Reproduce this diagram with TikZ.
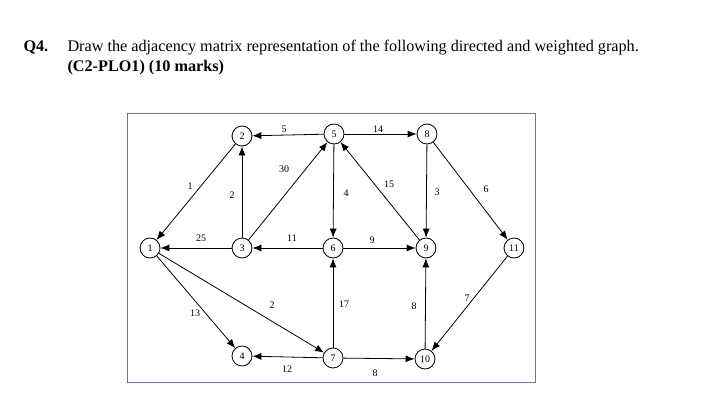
\documentclass[tikz,border=0pt]{standalone}
\usepackage{fontspec}
\setmainfont{Liberation Serif}
\usetikzlibrary{arrows.meta}
\begin{document}
\begin{tikzpicture}[x=1pt,y=-1pt,
  v/.style={circle,draw,thick,minimum size=20pt,inner sep=0pt,font=\fontsize{10}{10}\selectfont},
  e/.style={thick,-{Latex[length=9pt,width=7pt]}},
  w/.style={font=\fontsize{10}{10}\selectfont,inner sep=1pt}]
\useasboundingbox (0,0) rectangle (728,412);
\node[anchor=base west,font=\fontsize{16.2}{16}\selectfont\bfseries] (q) at (20,52) {Q4.};
\node[anchor=base west,font=\fontsize{16.2}{16}\selectfont] (t1) at (64,52) {Draw the adjacency matrix representation of the following directed and weighted graph.};
\node[anchor=base west,font=\fontsize{16.2}{16}\selectfont\bfseries] (t2) at (64,71) {(C2-PLO1) (10 marks)};
\draw[color=black!30!blue!40!gray!80] (127,113) rectangle (535,382);
\node[v] (n1) at (150,248) {1};
\node[v] (n2) at (242,136) {2};
\node[v] (n3) at (242,248) {3};
\node[v] (n4) at (242,356) {4};
\node[v] (n5) at (334,134) {5};
\node[v] (n6) at (333,248) {6};
\node[v] (n7) at (333,358) {7};
\node[v] (n8) at (427,134) {8};
\node[v] (n9) at (426,248) {9};
\node[v] (n10) at (425,359) {10};
\node[v] (n11) at (514,248) {11};
\draw[e] (n2) -- (n1);
\draw[e] (n3) -- (n1);
\draw[e] (n3) -- (n2);
\draw[e] (n3) -- (n5);
\draw[e] (n5) -- (n2);
\draw[e] (n5) -- (n8);
\draw[e] (n5) -- (n6);
\draw[e] (n6) -- (n3);
\draw[e] (n6) -- (n9);
\draw[e] (n9) -- (n5);
\draw[e] (n8) -- (n9);
\draw[e] (n8) -- (n11);
\draw[e] (n11) -- (n10);
\draw[e] (n10) -- (n9);
\draw[e] (n7) -- (n6);
\draw[e] (n7) -- (n4);
\draw[e] (n7) -- (n10);
\draw[e] (n1) -- (n4);
\draw[e] (n1) -- (n7);
\node[w] (l1) at (190,186) {1};
\node[w] (l2) at (232,195) {2};
\node[w] (l3) at (284,169) {30};
\node[w] (l4) at (284,129) {5};
\node[w] (l5) at (378,129) {14};
\node[w] (l6) at (346,193) {4};
\node[w] (l7) at (389,184) {15};
\node[w] (l8) at (437,192) {3};
\node[w] (l9) at (486,189) {6};
\node[w] (l10) at (201,238) {25};
\node[w] (l11) at (292,238) {11};
\node[w] (l12) at (372,240) {9};
\node[w] (l13) at (195,313) {13};
\node[w] (l14) at (272,305) {2};
\node[w] (l15) at (344,304) {17};
\node[w] (l16) at (414,306) {8};
\node[w] (l17) at (467,298) {7};
\node[w] (l18) at (287,369) {12};
\node[w] (l19) at (375,373) {8};
\end{tikzpicture}
\end{document}
